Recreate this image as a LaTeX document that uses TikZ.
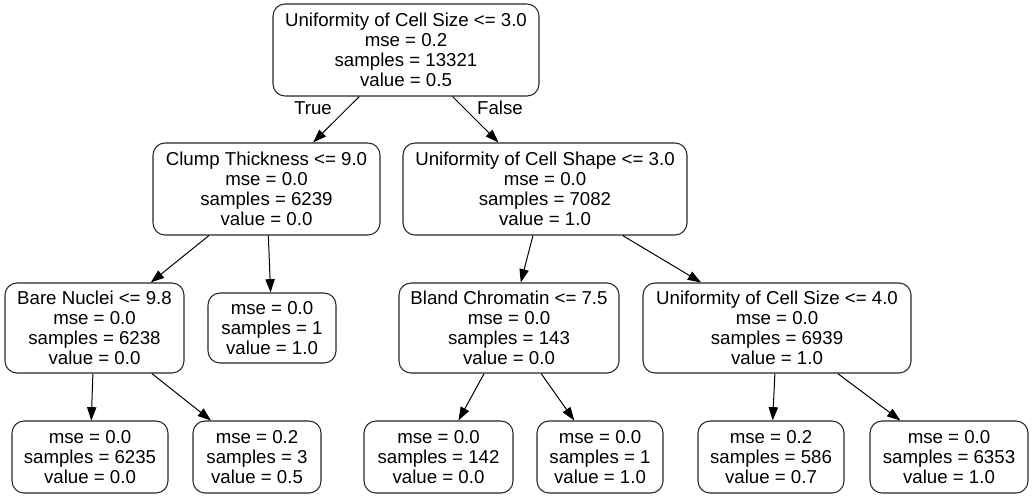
\documentclass[tikz,border=0pt]{standalone}
\usepackage{fontspec}
\setmainfont{Liberation Sans}
\usetikzlibrary{arrows.meta}
\begin{document}
\begin{tikzpicture}[x=0.75pt,y=-0.75pt,
  box/.style={draw=black!85, line width=0.8pt, rounded corners=9pt, rectangle,
    align=center, inner sep=0pt, font=\fontsize{14pt}{15pt}\selectfont},
  edge/.style={draw=black, line width=0.75pt, -{Triangle[length=10pt,width=7pt]}},
  elabel/.style={font=\fontsize{14pt}{15pt}\selectfont, inner sep=0pt}]
\useasboundingbox (0,0) rectangle (1034,497);
\node[box, minimum width=266*0.75pt, minimum height=92*0.75pt] (root) at (406,50)
  {Uniformity of Cell Size <= 3.0\\mse = 0.2\\samples = 13321\\value = 0.5};
\node[box, minimum width=227*0.75pt, minimum height=92*0.75pt] (clump) at (266.5,189)
  {Clump Thickness <= 9.0\\mse = 0.0\\samples = 6239\\value = 0.0};
\node[box, minimum width=284*0.75pt, minimum height=92*0.75pt] (shape) at (545,189)
  {Uniformity of Cell Shape <= 3.0\\mse = 0.0\\samples = 7082\\value = 1.0};
\node[box, minimum width=179*0.75pt, minimum height=90*0.75pt] (bare) at (94.5,328)
  {Bare Nuclei <= 9.8\\mse = 0.0\\samples = 6238\\value = 0.0};
\node[box, minimum width=128*0.75pt, minimum height=70*0.75pt] (leafa) at (272,328)
  {mse = 0.0\\samples = 1\\value = 1.0};
\node[box, minimum width=220*0.75pt, minimum height=90*0.75pt] (bland) at (509,328)
  {Bland Chromatin <= 7.5\\mse = 0.0\\samples = 143\\value = 0.0};
\node[box, minimum width=268*0.75pt, minimum height=90*0.75pt] (size4) at (777,328)
  {Uniformity of Cell Size <= 4.0\\mse = 0.0\\samples = 6939\\value = 1.0};
\node[box, minimum width=156*0.75pt, minimum height=72*0.75pt] (l1) at (90,457)
  {mse = 0.0\\samples = 6235\\value = 0.0};
\node[box, minimum width=128*0.75pt, minimum height=72*0.75pt] (l2) at (257,457)
  {mse = 0.2\\samples = 3\\value = 0.5};
\node[box, minimum width=149*0.75pt, minimum height=72*0.75pt] (l3) at (438.5,457)
  {mse = 0.0\\samples = 142\\value = 0.0};
\node[box, minimum width=126*0.75pt, minimum height=72*0.75pt] (l4) at (600,457)
  {mse = 0.0\\samples = 1\\value = 1.0};
\node[box, minimum width=146*0.75pt, minimum height=72*0.75pt] (l5) at (771,457)
  {mse = 0.2\\samples = 586\\value = 0.7};
\node[box, minimum width=158*0.75pt, minimum height=72*0.75pt] (l6) at (949,457)
  {mse = 0.0\\samples = 6353\\value = 1.0};
\path[edge] (root) -- (clump);
\path[edge] (root) -- (shape);
\path[edge] (clump) -- (bare);
\path[edge] (clump) -- (leafa);
\path[edge] (shape) -- (bland);
\path[edge] (shape) -- (size4);
\path[edge] (bare) -- (l1);
\path[edge] (bare) -- (l2);
\path[edge] (bland) -- (l3);
\path[edge] (bland) -- (l4);
\path[edge] (size4) -- (l5);
\path[edge] (size4) -- (l6);
\node[elabel] (truelab) at (313,108) {True};
\node[elabel] (falselab) at (500,108) {False};
\end{tikzpicture}
\end{document}
